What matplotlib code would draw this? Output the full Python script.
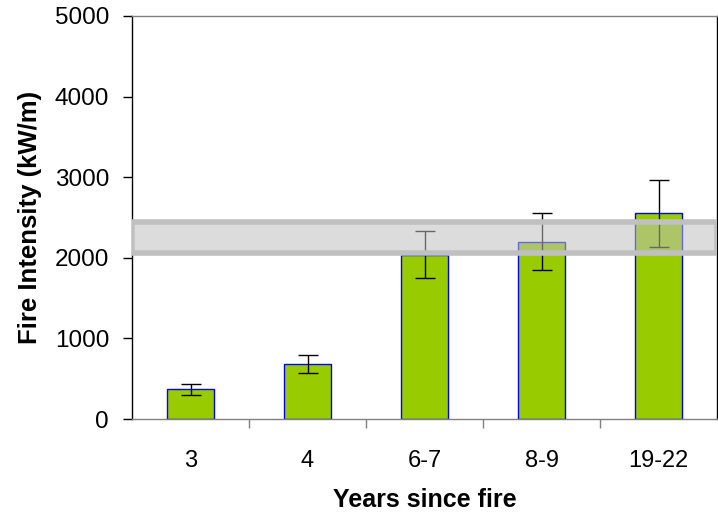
import matplotlib
matplotlib.use("Agg")
import matplotlib.pyplot as plt
import numpy as np

categories = ["3", "4", "6-7", "8-9", "19-22"]
values = [370, 680, 2040, 2200, 2550]
err_low = [70, 105, 295, 355, 420]
err_high = [70, 115, 295, 355, 410]
band_low, band_high = 2060, 2450
yticks = [0, 1000, 2000, 3000, 4000, 5000]

plt.rcParams['font.family'] = ['Liberation Sans', 'DejaVu Sans']

fig = plt.figure(figsize=(7.18, 5.13), dpi=100)
ax = fig.add_axes([132/718, 1-419/513, 585/718, 403/513])

x = np.arange(len(categories))
ax.bar(x, values, width=0.4, color='#99CC00', edgecolor='#0000FF', linewidth=1.0, zorder=2)
ax.errorbar(x, values, yerr=[err_low, err_high], fmt='none', ecolor='black',
            elinewidth=1.0, capsize=7, capthick=1.0, zorder=3)

# band
ax.axhspan(band_low, band_high, facecolor='#C0C0C0', alpha=0.54, edgecolor='none', zorder=4)
ax.axhspan(band_low, band_high, facecolor='none', edgecolor='#C0C0C0', linewidth=4, zorder=4)

ax.set_xlim(-0.5, 4.5)
ax.set_ylim(0, 5000)
ax.set_yticks(yticks)
ax.set_yticklabels([str(v) for v in yticks], fontsize=17.5)
ax.set_xticks(x)
ax.set_xticklabels(categories, fontsize=17)
ax.set_xticks(np.arange(0.5, 4.5, 1.0), minor=True)
ax.tick_params(axis='x', which='major', length=0, pad=22)
ax.tick_params(axis='x', which='minor', length=6.5, width=1, color='#808080', direction='out')
ax.tick_params(axis='y', which='major', length=6.5, width=1, direction='out', pad=10)

for s in ['top', 'bottom']:
    ax.spines[s].set_color('#808080')
ax.spines['left'].set_color('black')
ax.spines['right'].set_color('black')
for s in ax.spines.values():
    s.set_linewidth(1.0)

ax.set_ylabel('Fire Intensity (kW/m)', fontsize=18.5, fontweight='bold', labelpad=9)
ax.set_xlabel('Years since fire', fontsize=18, fontweight='bold', labelpad=12)

fig.savefig('out.png', dpi=100)
